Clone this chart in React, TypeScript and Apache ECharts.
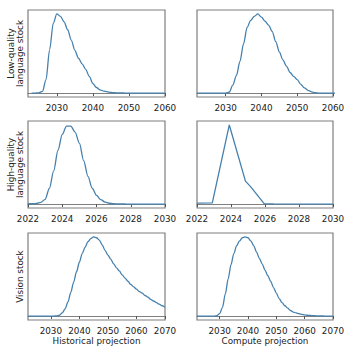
import React, { useEffect, useRef } from "react";
import * as echarts from "echarts";

// Top row (low-quality language stock), yearly values
const lowHistStart = 2023;
const lowHist = [
  0, 0, 0.002, 0.02, 0.17, 0.55, 0.88, 1.0, 0.97, 0.9, 0.8, 0.67, 0.54, 0.44, 0.37, 0.3, 0.21, 0.12,
  0.07, 0.04, 0.025, 0.015, 0.008, 0.004, 0.002, 0.001, 0, 0, 0, 0, 0, 0, 0, 0, 0, 0, 0, 0,
];
const lowCompStart = 2022;
const lowComp = [
  0, 0, 0, 0, 0, 0, 0, 0, 0, 0.01, 0.1, 0.22, 0.4, 0.62, 0.83, 0.92, 0.97, 1.0, 0.96, 0.91, 0.86,
  0.78, 0.65, 0.52, 0.42, 0.34, 0.26, 0.21, 0.17, 0.11, 0.065, 0.035, 0.015, 0.004, 0, 0, 0, 0, 0, 0,
];

// Middle row (high-quality language stock), quarter-year values
const highHistStart = 2022;
const highHist = [
  0.004, 0.005, 0.008, 0.02, 0.06, 0.2, 0.42, 0.68, 0.88, 0.985, 0.985, 0.91, 0.77, 0.55, 0.35, 0.2,
  0.11, 0.055, 0.025, 0.01, 0.004, 0.002, 0.001, 0, 0, 0, 0, 0, 0, 0, 0, 0, 0,
];
const highCompYears = [2022, 2022.9, 2023.9, 2024.85, 2025.15, 2025.95, 2026.5, 2030];
const highCompValues = [0.012, 0.015, 1.0, 0.29, 0.22, 0.005, 0.001, 0];

// Bottom row (vision stock), yearly values
const visionHistStart = 2022;
const visionHist = [
  0, 0, 0, 0, 0, 0, 0, 0, 0, 0, 0.002, 0.01, 0.04, 0.09, 0.18, 0.3, 0.43, 0.56, 0.68, 0.79, 0.87,
  0.94, 0.98, 1.0, 0.99, 0.96, 0.9, 0.83, 0.77, 0.72, 0.66, 0.61, 0.57, 0.52, 0.48, 0.44, 0.4, 0.37,
  0.34, 0.31, 0.29, 0.26, 0.24, 0.21, 0.19, 0.17, 0.15, 0.13, 0.11,
];
const visionCompStart = 2022;
const visionComp = [
  0, 0, 0, 0, 0, 0, 0, 0.005, 0.03, 0.11, 0.28, 0.47, 0.65, 0.79, 0.89, 0.95, 0.99, 1.0, 0.99, 0.95,
  0.89, 0.81, 0.73, 0.66, 0.58, 0.51, 0.44, 0.36, 0.29, 0.22, 0.17, 0.13, 0.1, 0.07, 0.05, 0.04, 0.03,
  0.02, 0.014, 0.01, 0.007, 0.005, 0.003, 0.002, 0.001, 0, 0, 0, 0,
];

const topTicks = [2030, 2040, 2050, 2060];
const bottomTicks = [2030, 2040, 2050, 2060, 2070];
const rowNames = ["Low-quality\nlanguage stock", "High-quality\nlanguage stock", "Vision stock"];
const colNames = ["Historical projection", "Compute projection"];

function seqPairs(start: number, step: number, values: number[]) {
  return values.map((v, i) => [start + i * step, v]);
}

export default function App() {
  const ref = useRef<HTMLDivElement>(null);
  useEffect(() => {
    if (!ref.current) return;
    const chart = echarts.init(ref.current, undefined, { renderer: "svg" });
    const font = "DejaVu Sans";
    const frame = "#7f7f7f";
    const lineColor = "#4680ad";
    const lefts = [28, 197];
    const widths = [137, 136];
    const tops = [10, 121, 233];
    const grids: any[] = [];
    const xAxes: any[] = [];
    const yAxes: any[] = [];
    const ranges = [
      { min: 2022, max: 2060, ticks: topTicks },
      { min: 2022, max: 2030, interval: 2 },
      { min: 2022, max: 2070, ticks: bottomTicks },
    ];
    for (let r = 0; r < 3; r++) {
      for (let c = 0; c < 2; c++) {
        const gi = r * 2 + c;
        grids.push({
          left: lefts[c],
          top: tops[r],
          width: widths[c],
          height: 87,
          show: true,
          borderColor: frame,
          borderWidth: 1.2,
          backgroundColor: "transparent",
        });
        const rg: any = ranges[r];
        const xa: any = {
          type: "value",
          gridIndex: gi,
          min: rg.min,
          max: rg.max,
          splitLine: { show: false },
          axisLine: { show: true, lineStyle: { color: frame, width: 1.2 } },
          axisTick: { show: true, length: 3, lineStyle: { color: "#555", width: 1 } },
          axisLabel: {
            fontSize: 8.8,
            color: "#222",
            margin: 6,
            fontFamily: font,
            showMinLabel: true,
            showMaxLabel: true,
            formatter: (v: number) => String(v),
          },
        };
        if (rg.ticks) {
          xa.axisLabel.customValues = rg.ticks;
          xa.axisTick.customValues = rg.ticks;
        } else {
          xa.interval = rg.interval;
        }
        if (r === 2) {
          xa.name = colNames[c];
          xa.nameLocation = "middle";
          xa.nameGap = 16;
          xa.nameTextStyle = { fontSize: 8.8, color: "#222", fontFamily: font };
        }
        xAxes.push(xa);
        const ya: any = {
          type: "value",
          gridIndex: gi,
          min: -0.05,
          max: 1.05,
          splitLine: { show: false },
          axisLine: { show: false },
          axisTick: { show: false },
          axisLabel: { show: false },
        };
        if (c === 0) {
          ya.name = rowNames[r];
          ya.nameLocation = "middle";
          ya.nameRotate = 90;
          ya.nameGap = 4;
          ya.nameTextStyle = {
            fontSize: 8.8,
            color: "#222",
            fontFamily: font,
            lineHeight: 8.5,
            verticalAlign: "bottom",
          };
        }
        yAxes.push(ya);
      }
    }
    const seriesData = [
      { data: seqPairs(lowHistStart, 1, lowHist), smooth: 0.3 },
      { data: seqPairs(lowCompStart, 1, lowComp), smooth: 0.3 },
      { data: seqPairs(highHistStart, 0.25, highHist), smooth: 0.3 },
      { data: highCompYears.map((y, i) => [y, highCompValues[i]]), smooth: false },
      { data: seqPairs(visionHistStart, 1, visionHist), smooth: 0.3 },
      { data: seqPairs(visionCompStart, 1, visionComp), smooth: 0.3 },
    ];
    const series = seriesData.map((s, i) => ({
      type: "line",
      xAxisIndex: i,
      yAxisIndex: i,
      data: s.data,
      smooth: s.smooth,
      smoothMonotone: "x",
      showSymbol: false,
      symbol: "none",
      lineStyle: { color: lineColor, width: 1.3 },
    }));
    chart.setOption({
      animation: false,
      backgroundColor: "#ffffff",
      textStyle: { fontFamily: font },
      grid: grids,
      xAxis: xAxes,
      yAxis: yAxes,
      series,
    });
    return () => chart.dispose();
  }, []);
  return (
    <div
      ref={ref}
      style={{ position: "fixed", left: 0, top: 0, width: 359, height: 357 }}
    />
  );
}
